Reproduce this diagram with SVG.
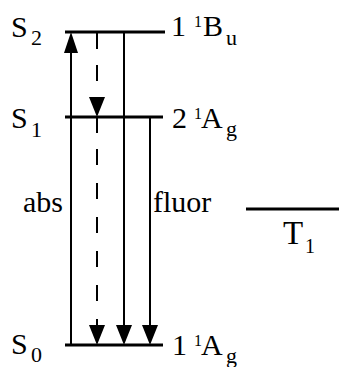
<svg xmlns="http://www.w3.org/2000/svg" width="339" height="367" viewBox="0 0 339 367">
  <defs>
    <polygon id="headDown" points="0,0 -8,-20 8,-20" fill="#000"/>
  </defs>
  <rect width="339" height="367" fill="#fff"/>

  <g id="S2" font-family="Liberation Serif" fill="#000">
    <line x1="65" y1="32" x2="165" y2="32" stroke="#000" stroke-width="3"/>
    <text x="11" y="37" font-size="30">S</text>
    <text x="31" y="45" font-size="22">2</text>
    <text x="171" y="36" font-size="30">1</text>
    <text x="194" y="27" font-size="16">1</text>
    <text x="203" y="36" font-size="30">B</text>
    <text x="226" y="45" font-size="22">u</text>
  </g>

  <g id="S1" font-family="Liberation Serif" fill="#000">
    <line x1="65" y1="117" x2="163" y2="117" stroke="#000" stroke-width="3"/>
    <text x="11" y="128" font-size="30">S</text>
    <text x="31" y="137" font-size="22">1</text>
    <text x="172" y="128" font-size="30">2</text>
    <text x="194" y="119" font-size="16">1</text>
    <text x="201" y="128" font-size="30">A</text>
    <text x="226" y="136" font-size="22">g</text>
  </g>

  <g id="S0" font-family="Liberation Serif" fill="#000">
    <line x1="65" y1="345" x2="163" y2="345" stroke="#000" stroke-width="3"/>
    <text x="11" y="354" font-size="30">S</text>
    <text x="31" y="362" font-size="22">0</text>
    <text x="172" y="355" font-size="30">1</text>
    <text x="194" y="346" font-size="16">1</text>
    <text x="201" y="355" font-size="30">A</text>
    <text x="226" y="363" font-size="22">g</text>
  </g>

  <g id="T1" font-family="Liberation Serif" fill="#000">
    <line x1="246" y1="209" x2="339" y2="209" stroke="#000" stroke-width="3"/>
    <text x="283" y="244" font-size="33">T</text>
    <text x="305" y="253" font-size="20">1</text>
  </g>

  <g id="connectors" stroke="#000" stroke-width="2" fill="none">
    <line x1="71" y1="345" x2="71" y2="50"/>
    <polygon points="71,32 64,53 78,53" fill="#000" stroke="none"/>
    <line x1="97" y1="33" x2="97" y2="99" stroke-dasharray="16 16"/>
    <use href="#headDown" x="97" y="117" stroke="none"/>
    <line x1="97" y1="117" x2="97" y2="133"/>
    <line x1="97" y1="149" x2="97" y2="326" stroke-dasharray="16 18"/>
    <use href="#headDown" x="97" y="345" stroke="none"/>
    <line x1="124" y1="32" x2="124" y2="327"/>
    <use href="#headDown" x="124" y="345" stroke="none"/>
    <line x1="150" y1="117" x2="150" y2="327"/>
    <use href="#headDown" x="150" y="345" stroke="none"/>
    <text x="23" y="212" font-family="Liberation Serif" font-size="30" fill="#000" stroke="none">abs</text>
    <text x="153" y="212" font-family="Liberation Serif" font-size="30" fill="#000" stroke="none">fluor</text>
  </g>
</svg>
